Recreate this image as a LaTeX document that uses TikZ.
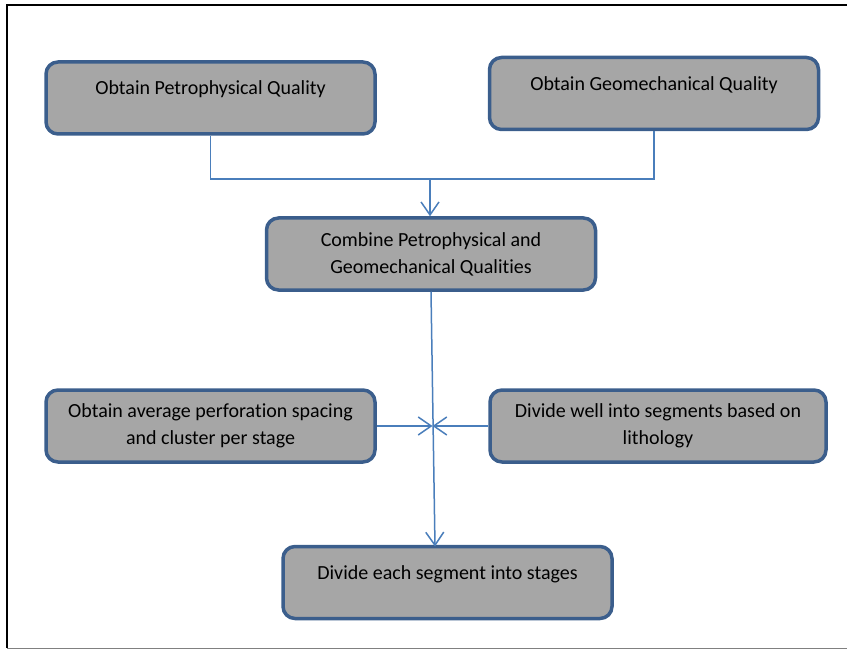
\documentclass[tikz,border=0pt]{standalone}
\usepackage{fontspec}
\setmainfont[Ligatures={NoCommon}]{Carlito}
\usepackage{tikz}
\usetikzlibrary{arrows.meta}
\definecolor{boxgrey}{RGB}{166,166,166}
\definecolor{boxedge}{RGB}{59,94,140}
\definecolor{linkblue}{RGB}{74,126,187}
\tikzset{
	stepbox/.style={draw=boxedge, fill=boxgrey, line width=3.5pt, rounded corners=12pt,
		minimum width=329pt, minimum height=72pt, align=center, inner sep=0pt,
		font=\fontsize{20}{27}\selectfont},
	oneline/.style={text height=12pt, text depth=18pt},
	link/.style={draw=linkblue, line width=1.5pt},
	tip/.style={-{Straight Barb[length=13pt,width=18pt]}}
}

\begin{document}
\begin{tikzpicture}[x=1pt,y=-1pt]
	\useasboundingbox (0,0) rectangle (847,650);
	%frame
	\draw[line width=2pt] (847,5) -- (7,5) -- (7,648);
	\draw[gray, line width=1.5pt] (7,648.5) -- (847,648.5);

	%quality boxes
	\node[stepbox, oneline] (petro) at (210.5,98) {Obtain Petrophysical Quality};
	\node[stepbox, oneline] (geo) at (654,93.5) {Obtain Geomechanical Quality};
	\node[stepbox] (comb) at (431,254) {Combine Petrophysical and\\Geomechanical Qualities};
	%spacing and segments
	\node[stepbox] (avg) at (210.5,426) {Obtain average perforation spacing\\and cluster per stage};
	\node[stepbox, minimum width=336pt] (seg) at (658,426) {Divide well into segments based on\\lithology};
	\node[stepbox, oneline] (stages) at (447.5,582.5) {Divide each segment into stages};

	%connectors
	\coordinate (join) at (430,179);
	\coordinate (mid) at (432.5,426);
	\coordinate (drop) at (435,546.5);
	\draw[link] (petro.south) |- (join) -| (geo.south);
	\draw[link, tip] (join) -- (join |- comb.north);
	\draw[link, tip] (comb.south) -- (drop);
	\draw[link, tip] (avg.east) -- (mid);
	\draw[link, tip] (seg.west) -- (mid);
\end{tikzpicture}
\end{document}
